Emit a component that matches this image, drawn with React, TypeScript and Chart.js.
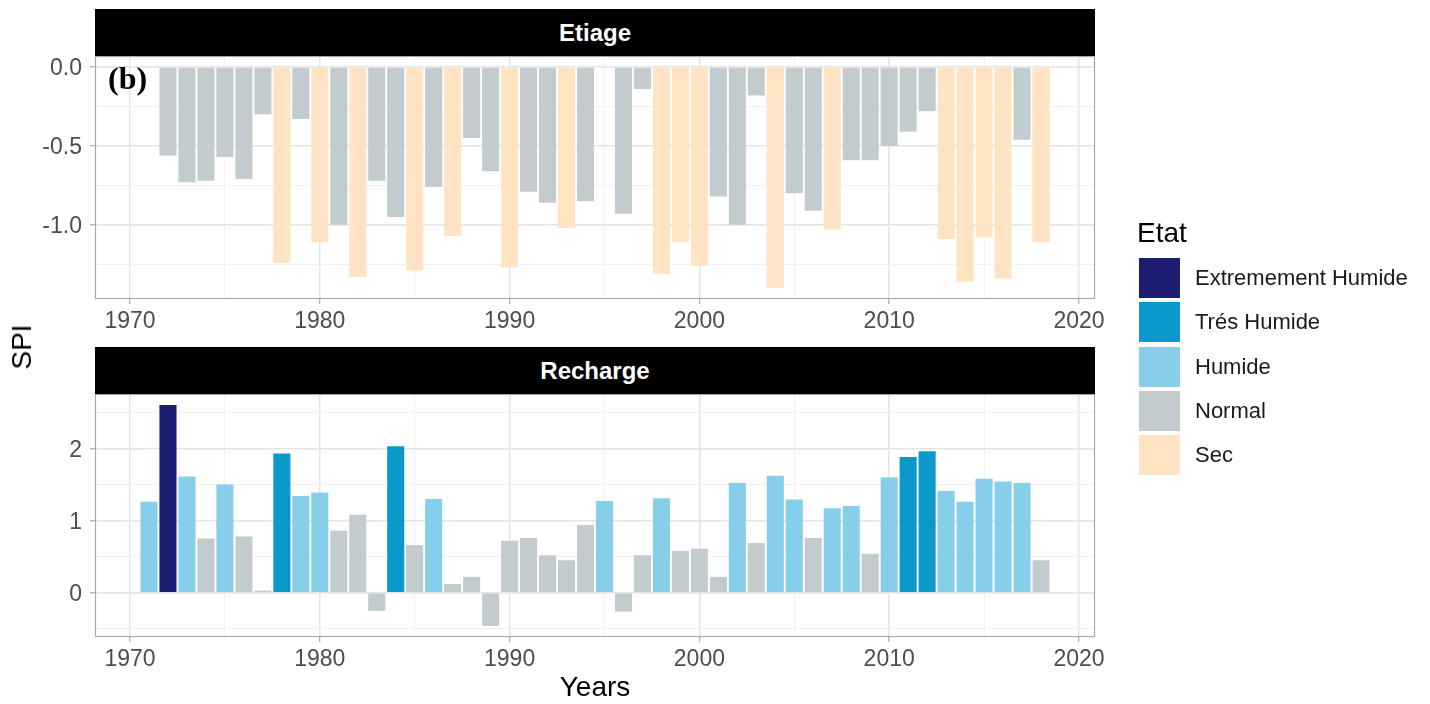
import { useEffect, useRef } from "react";
import { Chart, registerables } from "chart.js";

Chart.register(...registerables);

// ---------- DATA ----------
const years = [
  1971, 1972, 1973, 1974, 1975, 1976, 1977, 1978, 1979, 1980,
  1981, 1982, 1983, 1984, 1985, 1986, 1987, 1988, 1989, 1990,
  1991, 1992, 1993, 1994, 1995, 1996, 1997, 1998, 1999, 2000,
  2001, 2002, 2003, 2004, 2005, 2006, 2007, 2008, 2009, 2010,
  2011, 2012, 2013, 2014, 2015, 2016, 2017, 2018,
];

const etiageSPI: (number | null)[] = [
  null, -0.56, -0.73, -0.72, -0.57, -0.71, -0.30, -1.24, -0.33, -1.11,
  -1.00, -1.33, -0.72, -0.95, -1.29, -0.76, -1.07, -0.45, -0.66, -1.27,
  -0.79, -0.86, -1.02, -0.85, null, -0.93, -0.14, -1.31, -1.11, -1.26,
  -0.82, -1.00, -0.18, -1.40, -0.80, -0.91, -1.03, -0.59, -0.59, -0.50,
  -0.41, -0.28, -1.09, -1.36, -1.08, -1.34, -0.46, -1.11,
];

const etiageEtat: (string | null)[] = [
  null, "Normal", "Normal", "Normal", "Normal", "Normal", "Normal", "Sec", "Normal", "Sec",
  "Normal", "Sec", "Normal", "Normal", "Sec", "Normal", "Sec", "Normal", "Normal", "Sec",
  "Normal", "Normal", "Sec", "Normal", null, "Normal", "Normal", "Sec", "Sec", "Sec",
  "Normal", "Normal", "Normal", "Sec", "Normal", "Normal", "Sec", "Normal", "Normal", "Normal",
  "Normal", "Normal", "Sec", "Sec", "Sec", "Sec", "Normal", "Sec",
];

const rechargeSPI: (number | null)[] = [
  1.26, 2.60, 1.61, 0.75, 1.50, 0.78, 0.03, 1.93, 1.34, 1.39,
  0.86, 1.08, -0.25, 2.03, 0.66, 1.30, 0.12, 0.22, -0.46, 0.72,
  0.76, 0.52, 0.45, 0.94, 1.27, -0.26, 0.52, 1.31, 0.58, 0.61,
  0.22, 1.52, 0.69, 1.62, 1.29, 0.76, 1.17, 1.20, 0.54, 1.60,
  1.88, 1.96, 1.41, 1.26, 1.58, 1.54, 1.52, 0.45,
];

const rechargeEtat: (string | null)[] = [
  "Humide", "Extremement Humide", "Humide", "Normal", "Humide", "Normal", "Normal", "Trés Humide", "Humide", "Humide",
  "Normal", "Normal", "Normal", "Trés Humide", "Normal", "Humide", "Normal", "Normal", "Normal", "Normal",
  "Normal", "Normal", "Normal", "Normal", "Humide", "Normal", "Normal", "Humide", "Normal", "Normal",
  "Normal", "Humide", "Normal", "Humide", "Humide", "Normal", "Humide", "Humide", "Normal", "Humide",
  "Trés Humide", "Trés Humide", "Humide", "Humide", "Humide", "Humide", "Humide", "Normal",
];

const etatLabels = ["Extremement Humide", "Trés Humide", "Humide", "Normal", "Sec"];
const etatColors = ["#1C1C70", "#0B99CB", "#87CEEB", "#C2CCCE", "#FFE3C2"];

const xMajorTicks = [1970, 1980, 1990, 2000, 2010, 2020];
const xMinorTicks = [1975, 1985, 1995, 2005, 2015];
const etiageMajorTicks = [-1.0, -0.5, 0];
const etiageMinorTicks = [-1.25, -0.75, -0.25];
const rechargeMajorTicks = [0, 1, 2];
const rechargeMinorTicks = [-0.5, 0.5, 1.5, 2.5];

const panelTitles = ["Etiage", "Recharge"];
const xTitle = "Years";
const yTitle = "SPI";
const legendTitle = "Etat";
const panelTag = "(b)";

// ---------- STYLE ----------
const SANS = "'Liberation Sans', Arial, Helvetica, sans-serif";
const TICK_COLOR = "#4D4D4D";
const GRID_MAJOR = "#E4E4E4";
const GRID_MINOR = "#F1F1F1";
const BAR_WIDTH_YEARS = 0.9;

const panelBorder = {
  id: "panelBorder",
  afterDatasetsDraw(chart: any) {
    const { ctx, chartArea: a } = chart;
    ctx.save();
    ctx.strokeStyle = "#A8A8A8";
    ctx.lineWidth = 1.2;
    ctx.strokeRect(a.left + 0.5, a.top + 0.5, a.width - 1, a.height - 1);
    ctx.restore();
  },
};

function expandRange(vals: number[], withZero: boolean) {
  let lo = Math.min(...vals);
  let hi = Math.max(...vals);
  if (withZero) {
    lo = Math.min(lo, 0);
    hi = Math.max(hi, 0);
  }
  const pad = (hi - lo) * 0.05;
  return [lo - pad, hi + pad];
}

function makePanel(
  canvas: HTMLCanvasElement,
  values: (number | null)[],
  etats: (string | null)[],
  yMajor: number[],
  yMinor: number[],
  fmt: (v: number) => string,
  padTop: number,
  padBottom: number
) {
  const pts: { x: number; y: number }[] = [];
  const cols: string[] = [];
  years.forEach((yr, i) => {
    const v = values[i];
    const e = etats[i];
    if (v === null || e === null) return;
    pts.push({ x: yr, y: v });
    cols.push(etatColors[etatLabels.indexOf(e)]);
  });
  const [yMin, yMax] = expandRange(pts.map((p) => p.y), true);
  const [xMin, xMax] = expandRange(
    [years[0] - BAR_WIDTH_YEARS / 2, years[years.length - 1] + BAR_WIDTH_YEARS / 2],
    false
  );
  const xAll = [...xMajorTicks, ...xMinorTicks].sort((a, b) => a - b);
  const yAll = [...yMajor, ...yMinor].sort((a, b) => a - b);
  const isMajorX = (v: number) => xMajorTicks.includes(v);
  const isMajorY = (v: number) => yMajor.includes(v);

  return new Chart(canvas, {
    type: "bar",
    data: {
      datasets: [
        {
          data: pts as any,
          backgroundColor: cols,
          borderWidth: 0,
          categoryPercentage: 1,
          barPercentage: BAR_WIDTH_YEARS,
        },
      ],
    },
    options: {
      animation: false,
      responsive: false,
      maintainAspectRatio: false,
      events: [],
      layout: { padding: { left: 0, right: 335, top: padTop, bottom: padBottom } },
      plugins: { legend: { display: false }, tooltip: { enabled: false } },
      scales: {
        x: {
          type: "linear",
          min: xMin,
          max: xMax,
          offset: false,
          afterBuildTicks: (s: any) => {
            s.ticks = xAll.map((v) => ({ value: v }));
          },
          afterFit: (s: any) => {
            s.height = 40;
            s.paddingLeft = 0;
            s.paddingRight = 0;
          },
          border: { display: false },
          grid: {
            offset: false,
            color: (c: any) => (c.tick && isMajorX(c.tick.value) ? GRID_MAJOR : GRID_MINOR),
            lineWidth: (c: any) => (c.tick && isMajorX(c.tick.value) ? 1.5 : 1),
            tickColor: (c: any) =>
              c.tick && isMajorX(c.tick.value) ? "#9A9A9A" : "rgba(0,0,0,0)",
            tickLength: 5,
            tickWidth: 1,
          },
          ticks: {
            autoSkip: false,
            maxRotation: 0,
            minRotation: 0,
            padding: 4,
            color: TICK_COLOR,
            font: { family: SANS, size: 23 },
            callback: (v: any) => (isMajorX(Number(v)) ? String(v) : ""),
          },
        },
        y: {
          type: "linear",
          min: yMin,
          max: yMax,
          afterBuildTicks: (s: any) => {
            s.ticks = yAll.map((v) => ({ value: v }));
          },
          afterFit: (s: any) => {
            s.width = 95;
            s.paddingTop = 0;
            s.paddingBottom = 0;
          },
          border: { display: false },
          grid: {
            color: (c: any) => (c.tick && isMajorY(c.tick.value) ? GRID_MAJOR : GRID_MINOR),
            lineWidth: (c: any) => (c.tick && isMajorY(c.tick.value) ? 1.5 : 1),
            tickColor: (c: any) =>
              c.tick && isMajorY(c.tick.value) ? "#9A9A9A" : "rgba(0,0,0,0)",
            tickLength: 5,
            tickWidth: 1,
          },
          ticks: {
            autoSkip: false,
            padding: 8,
            labelOffset: 2,
            color: TICK_COLOR,
            font: { family: SANS, size: 23 },
            callback: (v: any) => (isMajorY(Number(v)) ? fmt(Number(v)) : ""),
          },
        },
      },
    } as any,
    plugins: [panelBorder],
  });
}

export default function App() {
  const topRef = useRef<HTMLCanvasElement>(null);
  const botRef = useRef<HTMLCanvasElement>(null);

  useEffect(() => {
    const c1 = makePanel(
      topRef.current!,
      etiageSPI,
      etiageEtat,
      etiageMajorTicks,
      etiageMinorTicks,
      (v) => v.toFixed(1),
      56,
      704 - 299 - 40
    );
    const c2 = makePanel(
      botRef.current!,
      rechargeSPI,
      rechargeEtat,
      rechargeMajorTicks,
      rechargeMinorTicks,
      (v) => String(v),
      394,
      704 - 637 - 40
    );
    return () => {
      c1.destroy();
      c2.destroy();
    };
  }, []);

  const stripStyle = (top: number): any => ({
    position: "absolute",
    left: 95,
    top,
    width: 1000,
    height: 47,
    background: "#000",
    color: "#fff",
    fontFamily: SANS,
    fontWeight: "bold",
    fontSize: 24,
    display: "flex",
    alignItems: "center",
    justifyContent: "center",
  });

  return (
    <div
      style={{
        position: "fixed",
        left: 0,
        top: 0,
        width: 1430,
        height: 704,
        background: "#fff",
        overflow: "hidden",
        fontFamily: SANS,
      }}
    >
      <canvas ref={topRef} width={1430} height={704} style={{ position: "absolute", left: 0, top: 0 }} />
      <canvas ref={botRef} width={1430} height={704} style={{ position: "absolute", left: 0, top: 0 }} />

      <div style={stripStyle(9)}>{panelTitles[0]}</div>
      <div style={stripStyle(347)}>{panelTitles[1]}</div>

      <div
        style={{
          position: "absolute",
          left: 108,
          top: 62,
          fontFamily: "'Liberation Serif', 'Times New Roman', serif",
          fontWeight: "bold",
          fontSize: 32,
          lineHeight: "32px",
          color: "#000",
        }}
      >
        {panelTag}
      </div>

      <div
        style={{
          position: "absolute",
          left: 95,
          width: 1000,
          top: 673,
          textAlign: "center",
          fontSize: 28,
          lineHeight: "28px",
          color: "#000",
        }}
      >
        {xTitle}
      </div>

      <div
        style={{
          position: "absolute",
          left: 22,
          top: 347,
          transform: "translate(-50%, -50%) rotate(-90deg)",
          fontSize: 28,
          lineHeight: "28px",
          whiteSpace: "nowrap",
          color: "#000",
        }}
      >
        {yTitle}
      </div>

      <div
        style={{
          position: "absolute",
          left: 1137,
          top: 219,
          fontSize: 28,
          lineHeight: "28px",
          color: "#000",
        }}
      >
        {legendTitle}
      </div>
      {etatLabels.map((lab, i) => (
        <div
          key={lab}
          style={{
            position: "absolute",
            left: 1139,
            top: 258 + i * 44.3,
            height: 40,
            display: "flex",
            alignItems: "center",
            whiteSpace: "nowrap",
          }}
        >
          <div style={{ width: 41, height: 40, background: etatColors[i] }} />
          <div style={{ marginLeft: 15, fontSize: 22, color: "#1A1A1A" }}>{lab}</div>
        </div>
      ))}
    </div>
  );
}
